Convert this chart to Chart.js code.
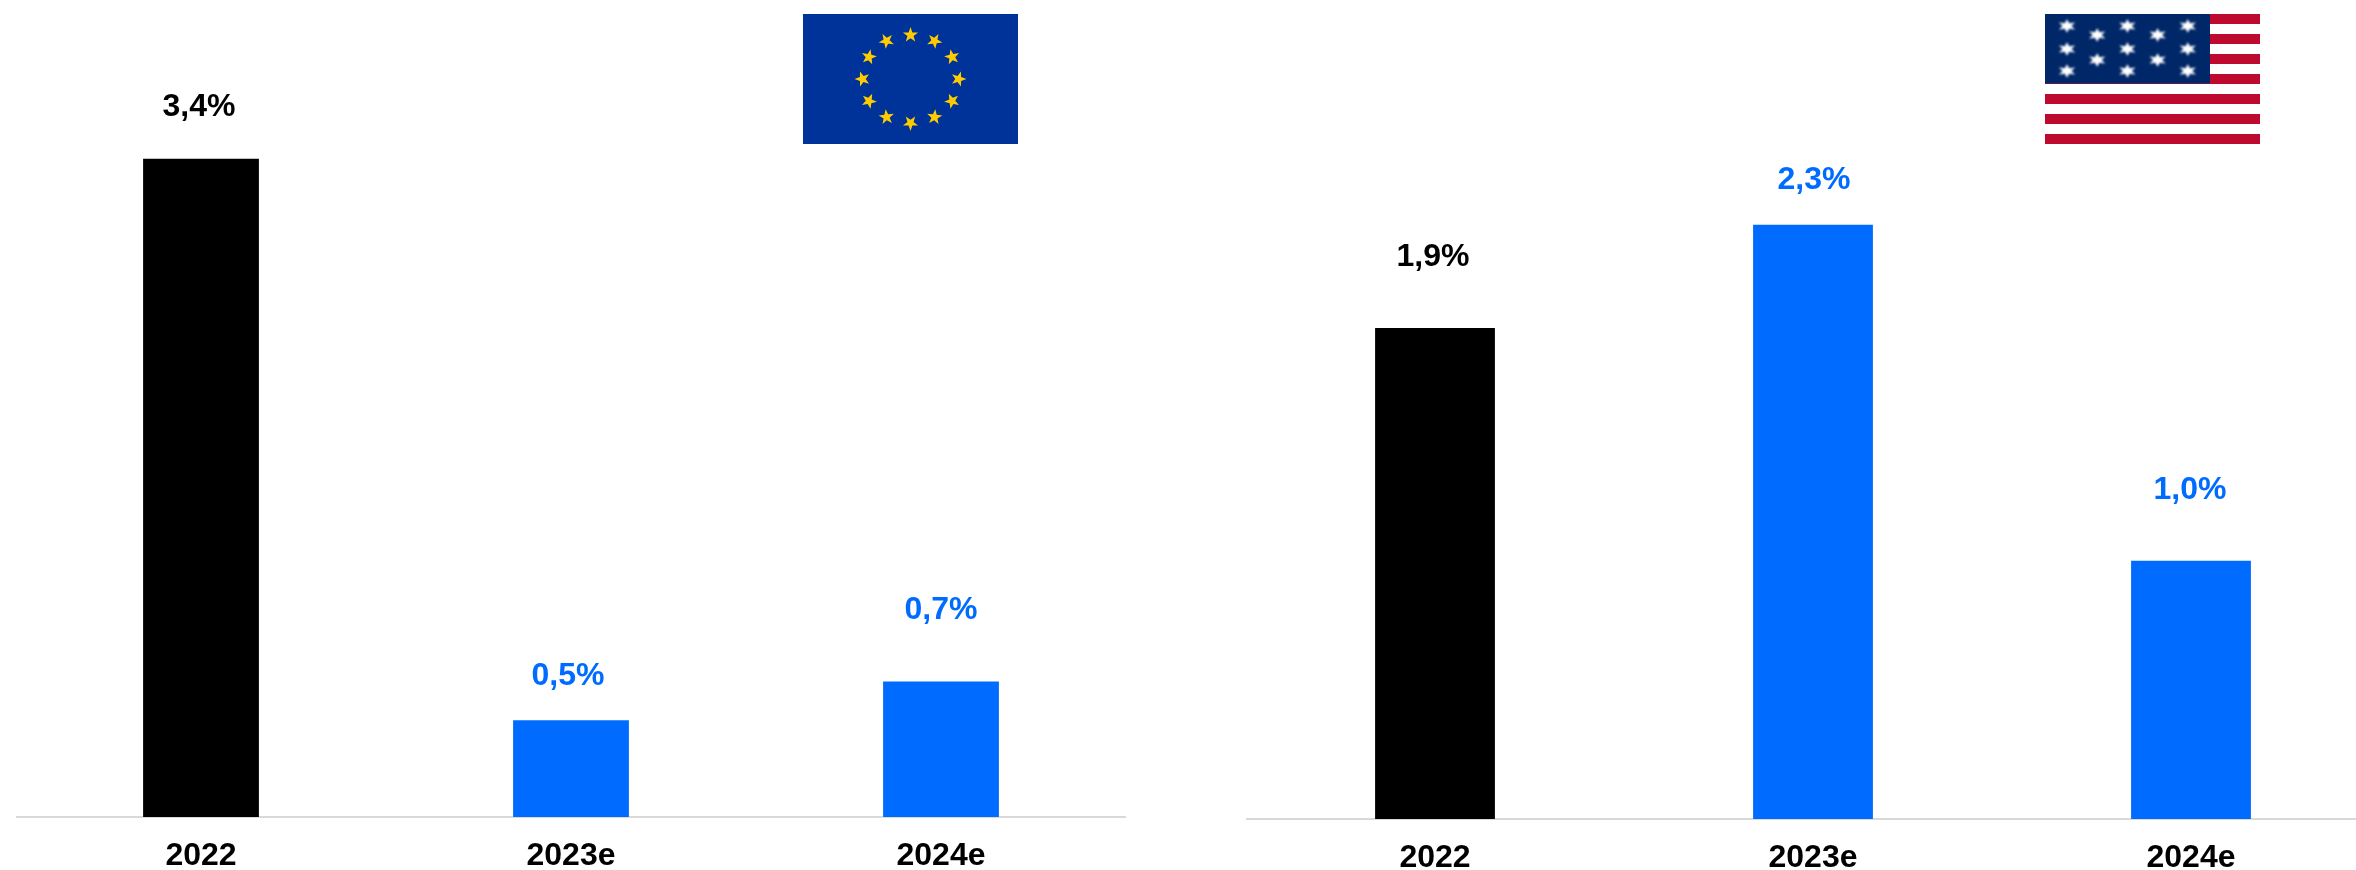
<!DOCTYPE html>
<html>
<head>
<meta charset="utf-8">
<style>
  html, body { margin: 0; width: 2356px; height: 870px; overflow: hidden; background: #fff; }
  canvas { position: absolute; top: 0; }
  #euChart { left: 16px; }
  #usChart { left: 1246px; }
</style>
<script src="https://cdn.jsdelivr.net/npm/chart.js@4/dist/chart.umd.min.js"></script>
</head>
<body>
<canvas id="euChart" width="1110" height="870"></canvas>
<canvas id="usChart" width="1134" height="870"></canvas>
<script>
const yearLabels = [ '2022', '2023e', '2024e' ]
const euGrowth = [ 3.4, 0.5, 0.7 ]
const usGrowth = [ 1.9, 2.3, 1.0 ]

const BLACK = '#000000'
const BLUE = '#006CFF'
const barColors = [ BLACK, BLUE, BLUE ]
const FONT = 'bold 32px "Liberation Sans", Arial, sans-serif'

const star = (ctx, cx, cy, points, outer, inner, turn = 0, sx = 1, sy = 1) => {
  ctx.save()
  ctx.translate(cx, cy)
  ctx.scale(sx, sy)
  ctx.rotate(turn)
  ctx.beginPath()
  for (let i = 0; i < points * 2; i++) {
    const r = i % 2 ? inner : outer
    const a = -Math.PI / 2 + i * Math.PI / points
    ctx.lineTo(r * Math.cos(a), r * Math.sin(a))
  }
  ctx.closePath()
  ctx.fill()
  ctx.restore()
}

// value labels sit above each bar, offset given per bar
const barLabels = {
  id: 'barLabels',
  afterDatasetsDraw(chart, args, pluginOptions) {
    const { ctx } = chart
    const meta = chart.getDatasetMeta(0)
    ctx.save()
    ctx.font = FONT
    ctx.textAlign = 'center'
    ctx.textBaseline = 'middle'
    chart.data.datasets[0].data.forEach((value, i) => {
      ctx.fillStyle = barColors[i]
      ctx.fillText(
        value.toFixed(1).replace('.', ',') + '%',
        meta.data[i].x + pluginOptions.shifts[i],
        meta.data[i].y - pluginOptions.gaps[i]
      )
    })
    ctx.restore()
  }
}

const euFlag = {
  id: 'euFlag',
  afterDraw(chart) {
    const { ctx } = chart
    const left = 787, top = 14
    ctx.save()
    ctx.fillStyle = '#003399'
    ctx.fillRect(left, top, 215, 130)
    ctx.fillStyle = '#FFCC00'
    for (let i = 0; i < 12; i++) {
      const a = i * Math.PI / 6
      star(ctx, left + 107.5 + 48 * Math.sin(a), top + 65 - 44 * Math.cos(a), 5, 8, 3.2, a)
    }
    ctx.restore()
  }
}

const usFlag = {
  id: 'usFlag',
  afterDraw(chart) {
    const { ctx } = chart
    const left = 799, top = 14
    ctx.save()
    ctx.fillStyle = '#FFFFFF'
    ctx.fillRect(left, top, 215, 130)
    ctx.fillStyle = '#BF0A30'
    for (let i = 0; i < 13; i += 2) {
      ctx.fillRect(left, top + i * 10, 215, 10)
    }
    ctx.fillStyle = '#002868'
    ctx.fillRect(left, top, 165, 69.5)
    ctx.fillStyle = '#FFFFFF'
    ctx.filter = 'blur(1px)'
    const rows = [ 12, 21, 35, 46, 57 ]
    rows.forEach((y, r) => {
      for (let c = r % 2; c < 5; c += 2) {
        star(ctx, left + 22 + c * 30.2, top + y, 6, 8.5, 4, 0, 1.1, 0.8)
      }
    })
    ctx.restore()
  }
}

const chartBottom = { euChart: 817, usChart: 819 }

function growthChart(id, values, yMax, barShare, gaps, shifts, flag) {
  return new Chart(document.getElementById(id), {
    plugins: [barLabels, flag],
    type: 'bar',
    data: {
      labels: yearLabels,
      datasets: [{
        data: values,
        backgroundColor: barColors,
        barPercentage: 1,
        categoryPercentage: barShare
      }]
    },
    options: {
      responsive: false,
      animation: false,
      layout: { padding: 0 },
      scales: {
        x: {
          afterFit(scale) { scale.height = 870 - chartBottom[id] },
          grid: { display: false, drawTicks: false },
          border: { color: '#D9D9D9', width: 2 },
          ticks: {
            color: BLACK,
            padding: 20,
            maxRotation: 0,
            font: { family: '"Liberation Sans", Arial, sans-serif', size: 32, weight: 'bold' }
          }
        },
        y: { display: false, min: 0, max: yMax }
      },
      plugins: {
        legend: { display: false },
        tooltip: { enabled: false },
        barLabels: { gaps: gaps, shifts: shifts }
      }
    }
  })
}

growthChart('euChart', euGrowth, 4.22, 0.313, [ 51.5, 44.5, 71.5 ], [ -2, -3, 0 ], euFlag)
growthChart('usChart', usGrowth, 3.17, 0.317, [ 71, 45, 70.5 ], [ -2, 1, -1 ], usFlag)
</script>
</body>
</html>
